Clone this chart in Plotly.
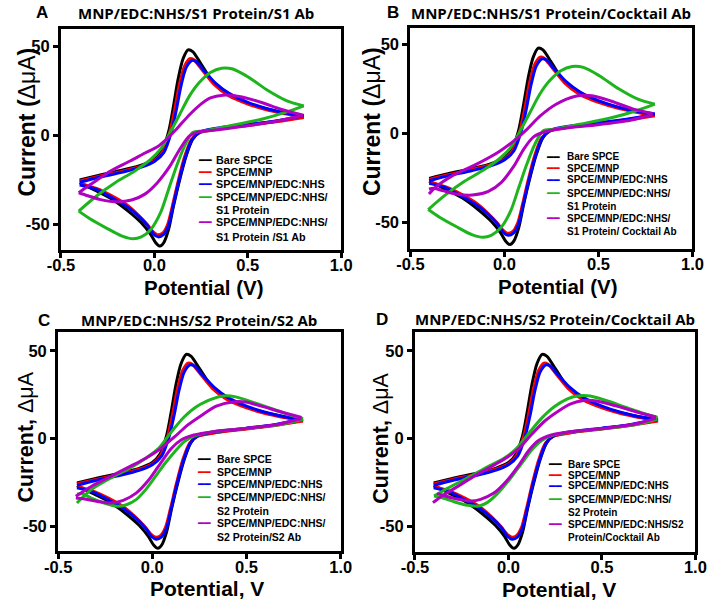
import plotly.graph_objects as go

# ---------------- data (potential V, current uA) ----------------
# Shared curves (identical in all four panels)
bare_fwd_v = [-0.40, -0.30, -0.17, -0.07, 0.00, 0.04, 0.075, 0.10, 0.127, 0.153, 0.18, 0.205, 0.25, 0.32, 0.40, 0.50, 0.60, 0.70, 0.80]
bare_fwd_i = [-25.2, -22.6, -19.6, -16.9, -13.6, -8.9, 1.5, 15.0, 31.5, 42.8, 48.0, 47.0, 40.0, 29.0, 22.5, 18.0, 14.8, 12.5, 10.5]
bare_rev_v = [0.80, 0.65, 0.50, 0.35, 0.24, 0.205, 0.17, 0.136, 0.102, 0.076, 0.05, 0.03, 0.007, -0.02, -0.07, -0.14, -0.225, -0.31, -0.40]
bare_rev_i = [10.5, 7.8, 5.8, 3.8, 1.5, -2.3, -11.7, -24.8, -39.9, -53.0, -60.5, -62.4, -60.5, -55.8, -49.3, -42.7, -36.1, -31.4, -26.7]

mnp_fwd_v = [-0.40, -0.30, -0.17, -0.07, 0.00, 0.045, 0.082, 0.108, 0.135, 0.162, 0.19, 0.21, 0.25, 0.32, 0.40, 0.50, 0.60, 0.70, 0.80]
mnp_fwd_i = [-25.8, -23.2, -20.2, -17.4, -14.3, -9.3, 1.5, 14.0, 29.0, 39.0, 43.0, 42.5, 37.5, 28.5, 22.0, 17.5, 14.3, 12.0, 10.0]
mnp_rev_v = [0.80, 0.65, 0.50, 0.35, 0.24, 0.198, 0.162, 0.128, 0.096, 0.07, 0.045, 0.015, -0.01, -0.04, -0.09, -0.15, -0.23, -0.31, -0.40]
mnp_rev_i = [10.0, 7.5, 5.5, 3.6, 1.3, -2.5, -12.0, -25.5, -40.0, -50.5, -55.0, -56.0, -54.0, -50.0, -44.5, -39.0, -34.0, -30.0, -27.0]

edc_fwd_v = [-0.40, -0.30, -0.17, -0.07, 0.00, 0.05, 0.09, 0.117, 0.143, 0.17, 0.20, 0.222, 0.26, 0.33, 0.40, 0.50, 0.60, 0.70, 0.80]
edc_fwd_i = [-26.5, -23.8, -20.8, -18.0, -14.8, -9.8, 1.5, 14.0, 28.0, 38.0, 42.0, 41.5, 37.0, 29.0, 23.5, 18.5, 15.0, 12.5, 11.0]
edc_rev_v = [0.80, 0.65, 0.50, 0.35, 0.245, 0.202, 0.167, 0.132, 0.10, 0.075, 0.048, 0.02, -0.005, -0.035, -0.085, -0.15, -0.23, -0.31, -0.40]
edc_rev_i = [11.0, 8.0, 6.0, 4.2, 1.8, -2.5, -12.0, -25.5, -40.0, -51.0, -56.0, -57.2, -55.5, -51.0, -45.5, -40.0, -35.0, -30.5, -28.0]

# S1 protein (panels A, B)
s1p_fwd_v = [-0.405, -0.31, -0.21, -0.105, -0.02, 0.033, 0.084, 0.136, 0.188, 0.239, 0.30, 0.36, 0.42, 0.505, 0.61, 0.71, 0.80]
s1p_fwd_i = [-42.7, -34.2, -26.7, -20.1, -13.6, -7.9, 1.5, 11.8, 22.1, 29.5, 35.3, 37.7, 37.2, 32.5, 25.0, 19.3, 16.5]
s1p_rev_v = [0.80, 0.71, 0.574, 0.40, 0.264, 0.205, 0.162, 0.119, 0.076, 0.033, -0.019, -0.07, -0.113, -0.173, -0.259, -0.345, -0.405]
s1p_rev_i = [16.5, 13.1, 9.0, 5.2, 2.4, 1.5, -6.0, -17.3, -30.5, -43.6, -53.0, -57.2, -58.3, -56.8, -52.1, -47.0, -42.7]

# S1 Ab (panel A)
s1ab_fwd_v = [-0.405, -0.36, -0.31, -0.233, -0.13, -0.05, 0.016, 0.067, 0.119, 0.188, 0.256, 0.30, 0.367, 0.453, 0.574, 0.677, 0.797]
s1ab_fwd_i = [-32.4, -29.0, -25.5, -20.0, -14.5, -10.0, -6.5, -2.0, 3.5, 11.5, 18.0, 21.0, 22.5, 21.8, 18.4, 14.6, 11.2]
s1ab_rev_v = [0.797, 0.66, 0.488, 0.316, 0.239, 0.188, 0.136, 0.084, 0.016, -0.053, -0.122, -0.208, -0.294, -0.362, -0.405]
s1ab_rev_i = [11.2, 8.0, 5.2, 2.8, 2.0, -0.4, -7.9, -17.3, -26.7, -33.3, -36.5, -37.4, -36.1, -33.9, -32.4]

# S1 cocktail Ab (panel B)
s1ck_fwd_v = [-0.401, -0.37, -0.273, -0.153, -0.033, 0.052, 0.121, 0.189, 0.275, 0.378, 0.464, 0.566, 0.686, 0.788]
s1ck_fwd_i = [-34.0, -30.5, -23.5, -17.5, -10.5, -4.0, 2.5, 9.8, 16.5, 21.0, 21.2, 18.3, 13.7, 11.3]
s1ck_rev_v = [0.788, 0.669, 0.498, 0.327, 0.224, 0.155, 0.104, 0.052, -0.016, -0.085, -0.170, -0.256, -0.324, -0.375, -0.401]
s1ck_rev_i = [10.7, 7.5, 5.0, 3.1, 1.3, -1.9, -8.6, -18.0, -27.4, -32.5, -34.6, -34.0, -32.2, -30.8, -31.2]

# S2 protein (panel C)
s2p_c_fwd_v = [-0.40, -0.324, -0.222, -0.12, -0.035, 0.034, 0.102, 0.17, 0.238, 0.323, 0.375, 0.443, 0.528, 0.63, 0.733, 0.80]
s2p_c_fwd_i = [-36.6, -29.0, -22.5, -16.8, -11.1, -5.5, 4.0, 12.5, 18.5, 22.8, 24.3, 23.8, 20.9, 17.2, 13.4, 11.5]
s2p_c_rev_v = [0.80, 0.664, 0.494, 0.323, 0.221, 0.17, 0.119, 0.068, 0.017, -0.035, -0.086, -0.137, -0.188, -0.256, -0.324, -0.367, -0.40]
s2p_c_rev_i = [11.0, 7.7, 5.8, 4.0, 1.5, -1.7, -7.4, -14.0, -21.5, -29.0, -34.7, -37.6, -38.5, -36.6, -33.8, -31.5, -31.5]

# S2 Ab (panel C)
s2ab_fwd_v = [-0.406, -0.324, -0.222, -0.12, -0.035, 0.034, 0.119, 0.187, 0.255, 0.34, 0.426, 0.494, 0.579, 0.681, 0.792]
s2ab_fwd_i = [-32.8, -27.2, -21.5, -15.9, -11.1, -6.4, 1.1, 7.7, 12.8, 18.5, 20.9, 20.9, 18.5, 15.3, 12.1]
s2ab_rev_v = [0.792, 0.664, 0.494, 0.323, 0.221, 0.153, 0.102, 0.05, -0.018, -0.086, -0.154, -0.222, -0.29, -0.358, -0.406]
s2ab_rev_i = [11.5, 8.1, 5.8, 4.0, 2.1, -0.8, -5.5, -13.0, -23.4, -31.0, -35.1, -36.6, -35.7, -34.3, -33.8]

# S2 protein (panel D)
s2p_d_fwd_v = [-0.398, -0.321, -0.218, -0.114, -0.028, 0.041, 0.11, 0.178, 0.247, 0.316, 0.368, 0.437, 0.523, 0.626, 0.729, 0.798]
s2p_d_fwd_i = [-32.6, -27.9, -22.3, -16.2, -11.5, -5.8, 3.2, 11.7, 18.3, 22.6, 24.3, 24.3, 21.7, 17.9, 14.2, 12.1]
s2p_d_rev_v = [0.798, 0.678, 0.506, 0.333, 0.23, 0.178, 0.127, 0.075, 0.006, -0.063, -0.114, -0.157, -0.218, -0.287, -0.355, -0.398]
s2p_d_rev_i = [11.1, 7.9, 5.7, 3.8, 1.7, -1.1, -6.2, -13.4, -23.2, -31.7, -36.4, -38.3, -37.9, -36.0, -33.6, -32.6]

# S2 cocktail Ab (panel D)
s2ck_fwd_v = [-0.404, -0.355, -0.269, -0.183, -0.097, -0.011, 0.058, 0.127, 0.196, 0.264, 0.333, 0.402, 0.471, 0.574, 0.678, 0.79]
s2ck_fwd_i = [-36.4, -32.6, -27.0, -21.3, -16.2, -10.9, -5.3, 2.8, 10.2, 15.5, 19.8, 21.7, 21.5, 18.7, 15.5, 12.3]
s2ck_rev_v = [0.79, 0.678, 0.506, 0.333, 0.23, 0.161, 0.11, 0.058, -0.011, -0.08, -0.149, -0.2, -0.269, -0.338, -0.381]
s2ck_rev_i = [11.7, 8.3, 5.8, 4.0, 2.1, -1.1, -6.6, -14.7, -24.2, -31.1, -34.5, -35.5, -34.5, -32.6, -31.1]

x_tickvals = [-0.5, 0.0, 0.5, 1.0]
x_ticktext = ["-0.5", "0.0", "0.5", "1.0"]
y_tickvals = [-50, 0, 50]
y_ticktext = ["-50", "0", "50"]

colors = ["#000000", "#FF0000", "#0000FF", "#1EB41E", "#B000C0"]
shared = [
    (bare_fwd_v, bare_fwd_i, bare_rev_v, bare_rev_i),
    (mnp_fwd_v, mnp_fwd_i, mnp_rev_v, mnp_rev_i),
    (edc_fwd_v, edc_fwd_i, edc_rev_v, edc_rev_i),
]

panels = [
    dict(key="A", title="MNP/EDC:NHS/S1 Protein/S1 Ab",
         curves=shared + [(s1p_fwd_v, s1p_fwd_i, s1p_rev_v, s1p_rev_i),
                          (s1ab_fwd_v, s1ab_fwd_i, s1ab_rev_v, s1ab_rev_i)],
         legend=["Bare SPCE", "SPCE/MNP", "SPCE/MNP/EDC:NHS", "SPCE/MNP/EDC:NHS/", "S1 Protein",
                 "SPCE/MNP/EDC:NHS/", "S1 Protein /S1 Ab"],
         xt="<b>Potential (V)</b>", yt="<b>Current (</b>ΔμA<b>)</b>",
         dom_x=[48.7, 339.0], dom_y=[28.5, 249.5], yr=[-64.3, 60.0],
         letter=(29, 13), tpos=(189, 13), xtpos=(197, 287), ytpos=(13, 122), xts=20.5, yts=23,
         lg_sw=198, lg_x=208.5, lg_y=[160, 171.7, 184.3, 196.7, 210, 222.3, 236.7], lg_fs=10.8),
    dict(key="B", title="MNP/EDC:NHS/S1 Protein/Cocktail Ab",
         curves=shared + [(s1p_fwd_v, s1p_fwd_i, s1p_rev_v, s1p_rev_i),
                          (s1ck_fwd_v, s1ck_fwd_i, s1ck_rev_v, s1ck_rev_i)],
         legend=["Bare SPCE", "SPCE/MNP", "SPCE/MNP/EDC:NHS", "SPCE/MNP/EDC:NHS/", "S1 Protein",
                 "SPCE/MNP/EDC:NHS/", "S1 Protein/ Cocktail Ab"],
         xt="<b>Potential (V)</b>", yt="<b>Current (</b>ΔμA<b>)</b>",
         dom_x=[410.7, 703.0], dom_y=[27.5, 248.5], yr=[-64.6, 59.6],
         letter=(393, 12), tpos=(556, 13), xtpos=(564, 286), ytpos=(371, 122), xts=20.5, yts=23,
         lg_sw=559, lg_x=571.7, lg_y=[156.7, 168.3, 180, 193.3, 206.7, 218.3, 231.7], lg_fs=10.0),
    dict(key="C", title="MNP/EDC:NHS/S2 Protein/S2 Ab",
         curves=shared + [(s2p_c_fwd_v, s2p_c_fwd_i, s2p_c_rev_v, s2p_c_rev_i),
                          (s2ab_fwd_v, s2ab_fwd_i, s2ab_rev_v, s2ab_rev_i)],
         legend=["Bare SPCE", "SPCE/MNP", "SPCE/MNP/EDC:NHS", "SPCE/MNP/EDC:NHS/", "S2 Protein",
                 "SPCE/MNP/EDC:NHS/", "S2 Protein/S2 Ab"],
         xt="<b>Potential, V</b>", yt="<b>Current, </b>ΔμA",
         dom_x=[45.7, 338.5], dom_y=[332.0, 550.8], yr=[-63.8, 60.7],
         letter=(31, 320), tpos=(192, 320), xtpos=(200, 588), ytpos=(12, 437), xts=21, yts=21.5,
         lg_sw=196.7, lg_x=209.3, lg_y=[459, 472, 484, 496.7, 511, 522.7, 536.7], lg_fs=10.5),
    dict(key="D", title="MNP/EDC:NHS/S2 Protein/Cocktail Ab",
         curves=shared + [(s2p_d_fwd_v, s2p_d_fwd_i, s2p_d_rev_v, s2p_d_rev_i),
                          (s2ck_fwd_v, s2ck_fwd_i, s2ck_rev_v, s2ck_rev_i)],
         legend=["Bare SPCE", "SPCE/MNP", "SPCE/MNP/EDC:NHS", "SPCE/MNP/EDC:NHS/", "S2 Protein",
                 "SPCE/MNP/EDC:NHS/S2", "Protein/Cocktail Ab"],
         xt="<b>Potential, V</b>", yt="<b>Current, </b>ΔμA",
         dom_x=[415.5, 706.0], dom_y=[332.0, 551.5], yr=[-64.2, 60.7],
         letter=(381, 319), tpos=(561, 319), xtpos=(565, 589), ytpos=(380, 438), xts=21, yts=21.5,
         lg_sw=561, lg_x=573.3, lg_y=[464.3, 475, 485.7, 499.3, 512.7, 524.3, 537.7], lg_fs=10.0),
]

W, H = 716, 602
def pxx(x):
    return x / W
def pxy(y):
    return 1 - y / H

fig = go.Figure()
annotations = []
layout_axes = {}
swatch_lines = [0, 1, 2, 3, 5]

for n, p in enumerate(panels, start=1):
    xa = "x" if n == 1 else f"x{n}"
    ya = "y" if n == 1 else f"y{n}"
    for c, (fv, fi, rv, ri) in enumerate(p["curves"]):
        for vv, ii in ((fv, fi), (rv, ri)):
            fig.add_trace(go.Scatter(
                x=vv, y=ii, mode="lines", xaxis=xa, yaxis=ya, showlegend=False,
                line=dict(color=colors[c], width=3, shape="spline", smoothing=0.8),
                hoverinfo="skip"))
    common = dict(showline=True, linewidth=3, linecolor="black", mirror=True,
                  ticks="outside", ticklen=5, tickwidth=2.5, tickcolor="black",
                  showgrid=False, zeroline=False,
                  tickfont=dict(family="Liberation Sans, Arial, sans-serif", size=16.5,
                                color="black", weight="bold"))
    layout_axes["xaxis" if n == 1 else f"xaxis{n}"] = dict(
        domain=[pxx(p["dom_x"][0]), pxx(p["dom_x"][1])], range=[-0.5, 1.0],
        tickvals=x_tickvals, ticktext=x_ticktext, anchor=ya, ticklabelstandoff=-6, **common)
    layout_axes["yaxis" if n == 1 else f"yaxis{n}"] = dict(
        domain=[pxy(p["dom_y"][1]), pxy(p["dom_y"][0])], range=p["yr"],
        tickvals=y_tickvals, ticktext=y_ticktext, anchor=xa, **common)

    base = dict(xref="paper", yref="paper", showarrow=False)
    annotations.append(dict(text="<b>%s</b>" % p["key"], x=pxx(p["letter"][0]), y=pxy(p["letter"][1]),
                            xanchor="center", yanchor="middle",
                            font=dict(family="Liberation Sans, Arial", size=17, color="black"), **base))
    annotations.append(dict(text="<b>%s</b>" % p["title"], x=pxx(p["tpos"][0]), y=pxy(p["tpos"][1]),
                            xanchor="center", yanchor="middle",
                            font=dict(family="Open Sans, sans-serif", size=15, color="black"), **base))
    annotations.append(dict(text=p["xt"], x=pxx(p["xtpos"][0]), y=pxy(p["xtpos"][1]),
                            xanchor="center", yanchor="middle",
                            font=dict(family="Liberation Sans, Arial", size=p["xts"], color="black"), **base))
    annotations.append(dict(text=p["yt"], x=pxx(p["ytpos"][0]), y=pxy(p["ytpos"][1]), textangle=-90,
                            xanchor="center", yanchor="middle",
                            font=dict(family="Liberation Sans, Arial", size=p["yts"], color="black"), **base))
    for k, txt in enumerate(p["legend"]):
        annotations.append(dict(text="<b>%s</b>" % txt, x=pxx(p["lg_x"]), y=pxy(p["lg_y"][k]),
                                xanchor="left", yanchor="middle", borderpad=0,
                                font=dict(family="Liberation Sans, Arial", size=p["lg_fs"], color="black"),
                                **base))
    for c, k in enumerate(swatch_lines):
        annotations.append(dict(text="━━", x=pxx(p["lg_sw"]), y=pxy(p["lg_y"][k]),
                                xanchor="center", yanchor="middle", borderpad=0,
                                font=dict(family="DejaVu Sans", size=10.5, color=colors[c]), **base))

fig.update_layout(width=W, height=H, margin=dict(l=0, r=0, t=0, b=0),
                  paper_bgcolor="white", plot_bgcolor="white",
                  annotations=annotations, showlegend=False, **layout_axes)

fig.write_html("out.html", config={"displayModeBar": False},
               post_script="document.body.style.margin='0';document.body.style.padding='0';")
